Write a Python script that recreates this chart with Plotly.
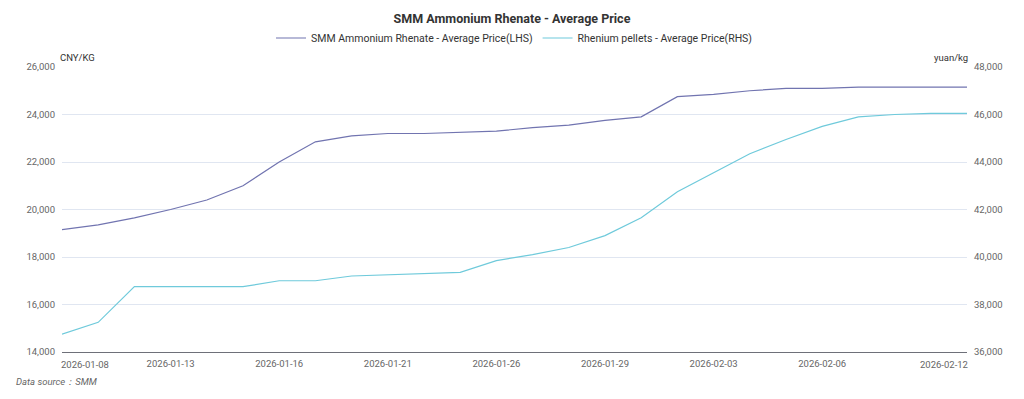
import plotly.graph_objects as go

dates = ["2026-01-08", "2026-01-09", "2026-01-12", "2026-01-13", "2026-01-14", "2026-01-15",
         "2026-01-16", "2026-01-19", "2026-01-20", "2026-01-21", "2026-01-22", "2026-01-23",
         "2026-01-26", "2026-01-27", "2026-01-28", "2026-01-29", "2026-01-30", "2026-02-02",
         "2026-02-03", "2026-02-04", "2026-02-05", "2026-02-06", "2026-02-09", "2026-02-10",
         "2026-02-11", "2026-02-12"]

ammonium_rhenate = [19150, 19350, 19650, 20000, 20400, 21000, 22000, 22850, 23100, 23200,
                    23200, 23250, 23300, 23450, 23550, 23750, 23900, 24750, 24850, 25000,
                    25100, 25100, 25150, 25150, 25150, 25150]

rhenium_pellets = [36750, 37250, 38750, 38750, 38750, 38750, 39000, 39000, 39200, 39250,
                   39300, 39350, 39850, 40100, 40400, 40900, 41650, 42750, 43550, 44350,
                   44950, 45500, 45900, 46000, 46050, 46050]

mid_ticks = ["2026-01-13", "2026-01-16", "2026-01-21", "2026-01-26", "2026-01-29",
             "2026-02-03", "2026-02-06"]

left_ticks = [14000, 16000, 18000, 20000, 22000, 24000, 26000]
right_ticks = [36000, 38000, 40000, 42000, 44000, 46000, 48000]

name_lhs = "SMM Ammonium Rhenate - Average Price(LHS)"
name_rhs = "Rhenium pellets - Average Price(RHS)"
title_text = "SMM Ammonium Rhenate - Average Price"
source_text = "Data source：SMM"

FONT = "Roboto, Noto Sans, sans-serif"
PURPLE = "#7174B0"
CYAN = "#6FCADB"
GRID = "#E0E6F1"
TXT = "#666666"
TICK = 9.5

fig = go.Figure()
fig.add_trace(go.Scatter(x=dates, y=ammonium_rhenate, name=name_lhs, mode="lines",
                         line=dict(color=PURPLE, width=1.2), yaxis="y"))
fig.add_trace(go.Scatter(x=dates, y=rhenium_pellets, name=name_rhs, mode="lines",
                         line=dict(color=CYAN, width=1.2), yaxis="y2"))

fig.update_layout(
    width=1024, height=399,
    margin=dict(l=62, r=57, t=67, b=47, autoexpand=False),
    paper_bgcolor="white", plot_bgcolor="white",
    font=dict(family=FONT, size=TICK, color=TXT),
    title=dict(text="<b>" + title_text + "</b>", x=0.5, xanchor="center",
               y=1 - 19 / 399, yanchor="middle",
               font=dict(size=12.5, color="#333333", family=FONT)),
    showlegend=True,
    legend=dict(orientation="h", x=0.5, xanchor="center", y=1 - 38 / 399, yanchor="middle",
                yref="container", font=dict(size=10.5, color="#333333"),
                itemwidth=30, bgcolor="rgba(0,0,0,0)"),
    xaxis=dict(type="category", categoryorder="array", categoryarray=dates,
               range=[0, len(dates) - 1], tickmode="array", tickvals=mid_ticks,
               ticktext=mid_ticks, showgrid=False, showline=True, linecolor="#6E7079",
               linewidth=1, ticks="", tickfont=dict(size=TICK, color=TXT), zeroline=False,
               ticklabelstandoff=3, automargin=False),
    yaxis=dict(range=[left_ticks[0], left_ticks[-1]], tickmode="array", tickvals=left_ticks,
               tickformat=",", showgrid=True, gridcolor=GRID, gridwidth=1, zeroline=False,
               showline=False, ticks="", ticklabelstandoff=6, tickfont=dict(size=TICK, color=TXT),
               automargin=False),
    yaxis2=dict(range=[right_ticks[0], right_ticks[-1]], tickmode="array", tickvals=right_ticks,
                tickformat=",", overlaying="y", side="right", showgrid=False, zeroline=False,
                showline=False, ticks="", ticklabelstandoff=6, tickfont=dict(size=TICK, color=TXT),
                automargin=False),
)

# first and last x labels aligned to the plot edges
fig.add_annotation(x=dates[0], y=0, xref="x", yref="paper", text=dates[0], showarrow=False,
                   xanchor="left", yanchor="top", yshift=-5, xshift=-3,
                   font=dict(size=TICK, color=TXT))
fig.add_annotation(x=dates[-1], y=0, xref="x", yref="paper", text=dates[-1], showarrow=False,
                   xanchor="right", yanchor="top", yshift=-5, xshift=3,
                   font=dict(size=TICK, color=TXT))

# axis unit labels
fig.add_annotation(x=0, y=1, xref="paper", yref="paper", text="CNY/KG", showarrow=False,
                   xanchor="left", yanchor="bottom", yshift=2, xshift=-4,
                   font=dict(size=TICK, color="#333333"))
fig.add_annotation(x=1, y=1, xref="paper", yref="paper", text="yuan/kg", showarrow=False,
                   xanchor="right", yanchor="bottom", yshift=2, xshift=3,
                   font=dict(size=TICK, color="#333333"))

# data source note
fig.add_annotation(x=0, y=0, xref="paper", yref="paper", text="<i>" + source_text + "</i>",
                   showarrow=False, xanchor="left", yanchor="middle", xshift=-48, yshift=-29,
                   font=dict(size=TICK, color=TXT))

fig.write_html("out.html", config={"displayModeBar": False},
               post_script="document.body.style.margin='0';")
